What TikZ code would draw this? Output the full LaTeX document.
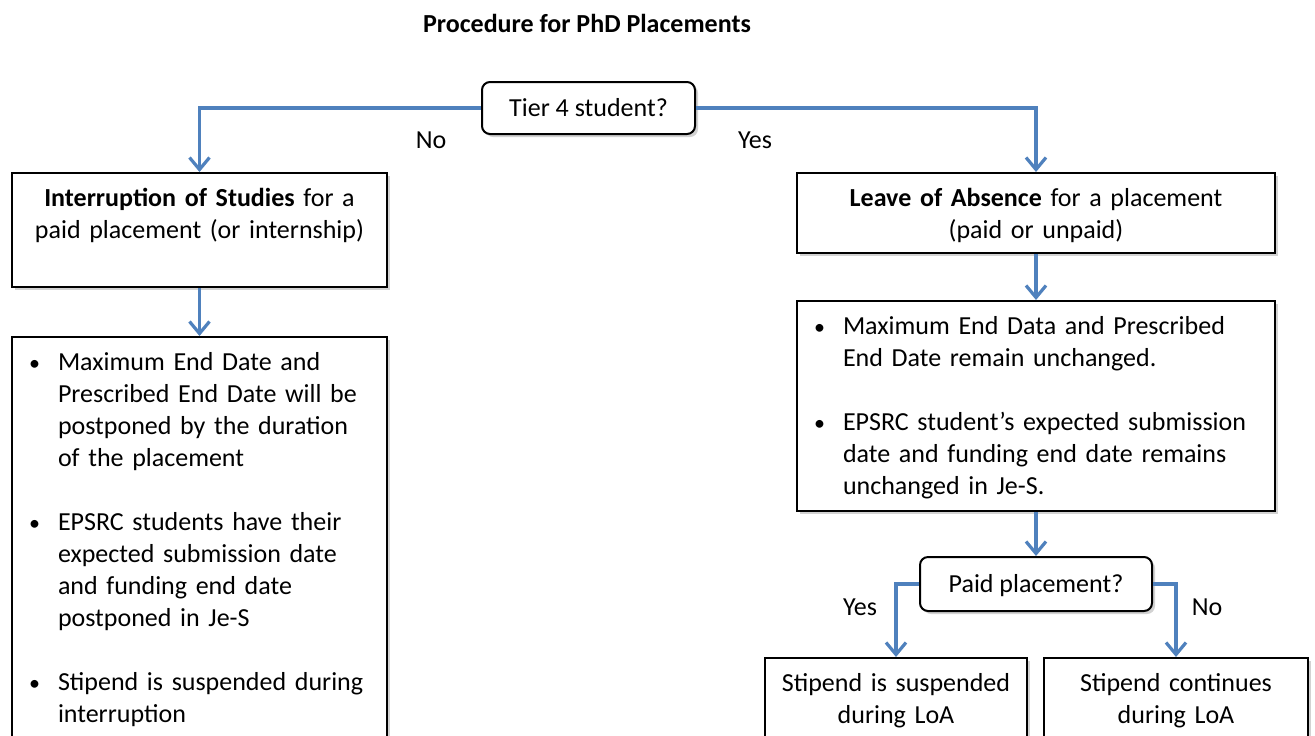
\documentclass[tikz,border=0pt]{standalone}
\usepackage{fontspec}
\setmainfont{Carlito}
\usetikzlibrary{arrows.meta,shadows}
\definecolor{flowblue}{RGB}{79,129,189}
\newcommand{\bul}{\hangindent=19pt\hangafter=1\noindent\makebox[19pt][l]{\hspace{4.5pt}{\fontsize{11pt}{11pt}\selectfont•}}}
\newcommand{\itemgap}{\par\vspace{16pt}}
\tikzset{
    every node/.style={font=\fontsize{13pt}{16pt}\selectfont},
    box/.style={rectangle,draw,line width=1pt,fill=white,inner xsep=4pt,inner ysep=6pt,text height=10.5pt,
        drop shadow={shadow xshift=1.5pt,shadow yshift=-1.5pt,opacity=0.35}},
    decision/.style={box,rounded corners=4pt,text depth=2.5pt},
    flow/.style={draw=flowblue,line width=1.6pt,-{Straight Barb[length=6pt,width=10pt]}}
}
\begin{document}
    \begin{tikzpicture}[x=0.5pt,y=-0.5pt]
        \path[use as bounding box] (0,0) rectangle (1315,735);
        \clip (0,0) rectangle (1315,735);
        \fill[white] (0,0) rectangle (1315,735);
        \node at (587,23) (title) {\textbf{Procedure for PhD Placements}};
        \node[decision,minimum width=106.5pt,minimum height=26pt] at (588.5,108) (tier) {Tier 4 student?};
        \node[box,anchor=north,text width=179.5pt,align=center,text depth=34.5pt] at (199.5,172) (ios) {\textbf{Interruption of Studies} for a\\ paid placement (or internship)};
        \node[box,anchor=north,text width=231pt,align=center,text depth=17.5pt] at (1036,172) (loa) {\textbf{Leave of Absence} for a placement\\ (paid or unpaid)};
        \node[box,anchor=north,text width=179.5pt,align=left,text depth=230pt] at (199.5,336) (iosnotes) {%
            \bul Maximum End Date and\newline Prescribed End Date will be\newline postponed by the duration\newline of the placement\itemgap
            \bul EPSRC students have their\newline expected submission date\newline and funding end date\newline postponed in Je-S\itemgap
            \bul Stipend is suspended during\newline interruption\par};
        \node[box,anchor=north,text width=231pt,align=left,text depth=82.5pt] at (1036,300) (loanotes) {%
            \bul Maximum End Data and Prescribed\newline End Date remain unchanged.\itemgap
            \bul EPSRC student’s expected submission\newline date and funding end date remains\newline unchanged in Je-S.\par};
        \node[decision,minimum width=116pt,minimum height=27pt] at (1036,584) (paid) {Paid placement?};
        \node[box,anchor=north,text width=123pt,align=center,text depth=40pt] at (896,657) (susp) {Stipend is suspended\\ during LoA};
        \node[box,anchor=north,text width=124pt,align=center,text depth=40pt] at (1176,657) (cont) {Stipend continues\\ during LoA};
        \node at (431,140) (tierno) {No};
        \node at (755,140) (tieryes) {Yes};
        \node at (860,607) (paidyes) {Yes};
        \node at (1207,607) (paidno) {No};
        \draw[flow] (tier.west) -| (ios.north);
        \draw[flow] (tier.east) -| (loa.north);
        \draw[flow] (ios.south) -- (iosnotes.north);
        \draw[flow] (loa.south) -- (loanotes.north);
        \draw[flow] (loanotes.south) -- (paid.north);
        \draw[flow] (paid.west) -| (susp.north);
        \draw[flow] (paid.east) -| (cont.north);
    \end{tikzpicture}
\end{document}
